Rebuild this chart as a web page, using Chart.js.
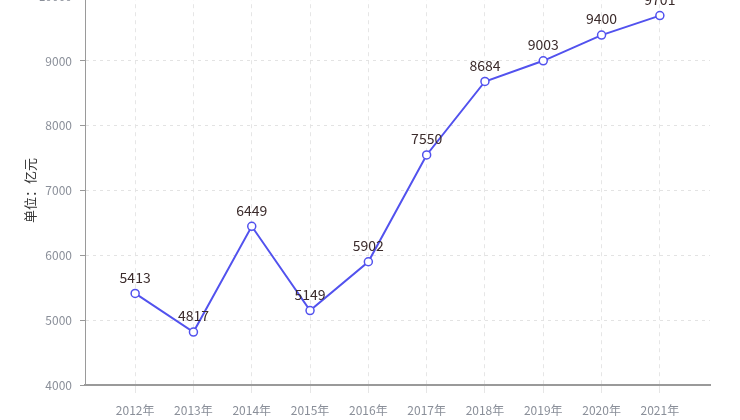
<!DOCTYPE html>
<html><head><meta charset="utf-8">
<script src="https://cdn.jsdelivr.net/npm/chart.js@4"></script>
<style>
html,body{margin:0;padding:0;background:#fff;overflow:hidden;width:740px;height:420px;}
#wrap{position:absolute;left:0;top:-19px;width:740px;height:436px;}
</style></head><body>
<div id="wrap"><canvas id="c" width="740" height="436"></canvas></div>
<script>
const categories = ["2012年","2013年","2014年","2015年","2016年","2017年","2018年","2019年","2020年","2021年"];
const values = [5413, 4817, 6449, 5149, 5902, 7550, 8684, 9003, 9400, 9701];
const yTicks = [4000, 5000, 6000, 7000, 8000, 9000, 10000];
const yTitle = "单位：亿元";

const FONT = "'Noto Sans CJK SC', 'Microsoft YaHei', sans-serif";

const labelPlugin = {
  id: 'valueLabels',
  afterDatasetsDraw(chart) {
    const ctx = chart.ctx;
    const meta = chart.getDatasetMeta(0);
    ctx.save();
    ctx.font = "14px " + FONT;
    ctx.fillStyle = "#3b2b2b";
    ctx.textAlign = "center";
    ctx.textBaseline = "bottom";
    meta.data.forEach((pt, i) => {
      ctx.fillText(String(values[i]), pt.x, pt.y - 9);
    });
    ctx.restore();
  }
};

new Chart(document.getElementById('c'), {
  type: 'line',
  data: {
    datasets: [{
      data: values.map((v, i) => ({x: i, y: v})),
      borderColor: '#5252ee',
      borderWidth: 2,
      pointRadius: 4,
      pointBorderWidth: 1.5,
      pointBackgroundColor: '#ffffff',
      pointBorderColor: '#5252ee',
      tension: 0,
      fill: false
    }]
  },
  options: {
    responsive: false,
    animation: false,
    layout: {padding: {top: 0, right: 30, left: 22, bottom: 0}},
    plugins: {legend: {display: false}, tooltip: {enabled: false}},
    scales: {
      x: {
        type: 'linear',
        min: -0.86, max: 9.86,
        afterBuildTicks(axis) { axis.ticks = categories.map((c, i) => ({value: i})); },
        ticks: {
          callback: (v) => categories[v] ?? '',
          color: '#8a8f99',
          font: {size: 12, family: FONT},
          padding: 10,
          maxRotation: 0,
          autoSkip: false
        },
        grid: {
          color: '#e6e6e6',
          tickColor: '#e6e6e6',
          tickLength: 8,
          drawTicks: true
        },
        border: {dash: [4, 4], color: '#9a9a9a', width: 2},
        afterFit(axis) { axis.height = 32; }
      },
      y: {
        min: 4000, max: 10000,
        afterBuildTicks(axis) { axis.ticks = yTicks.map(v => ({value: v})); },
        ticks: {
          callback: (v) => String(v),
          color: '#8a8f99',
          font: {size: 12, family: FONT},
          padding: 8
        },
        grid: {
          color: '#e3e3e3',
          tickColor: '#9a9a9a',
          tickLength: 5
        },
        border: {dash: [3, 4], color: '#9a9a9a', width: 1},
        title: {
          display: true,
          text: yTitle,
          color: '#333333',
          font: {size: 13, family: FONT},
          padding: {top: 0, bottom: 6}
        },
        afterFit(axis) { axis.width = 63; }
      }
    }
  },
  plugins: [labelPlugin]
});
</script>
</body></html>
